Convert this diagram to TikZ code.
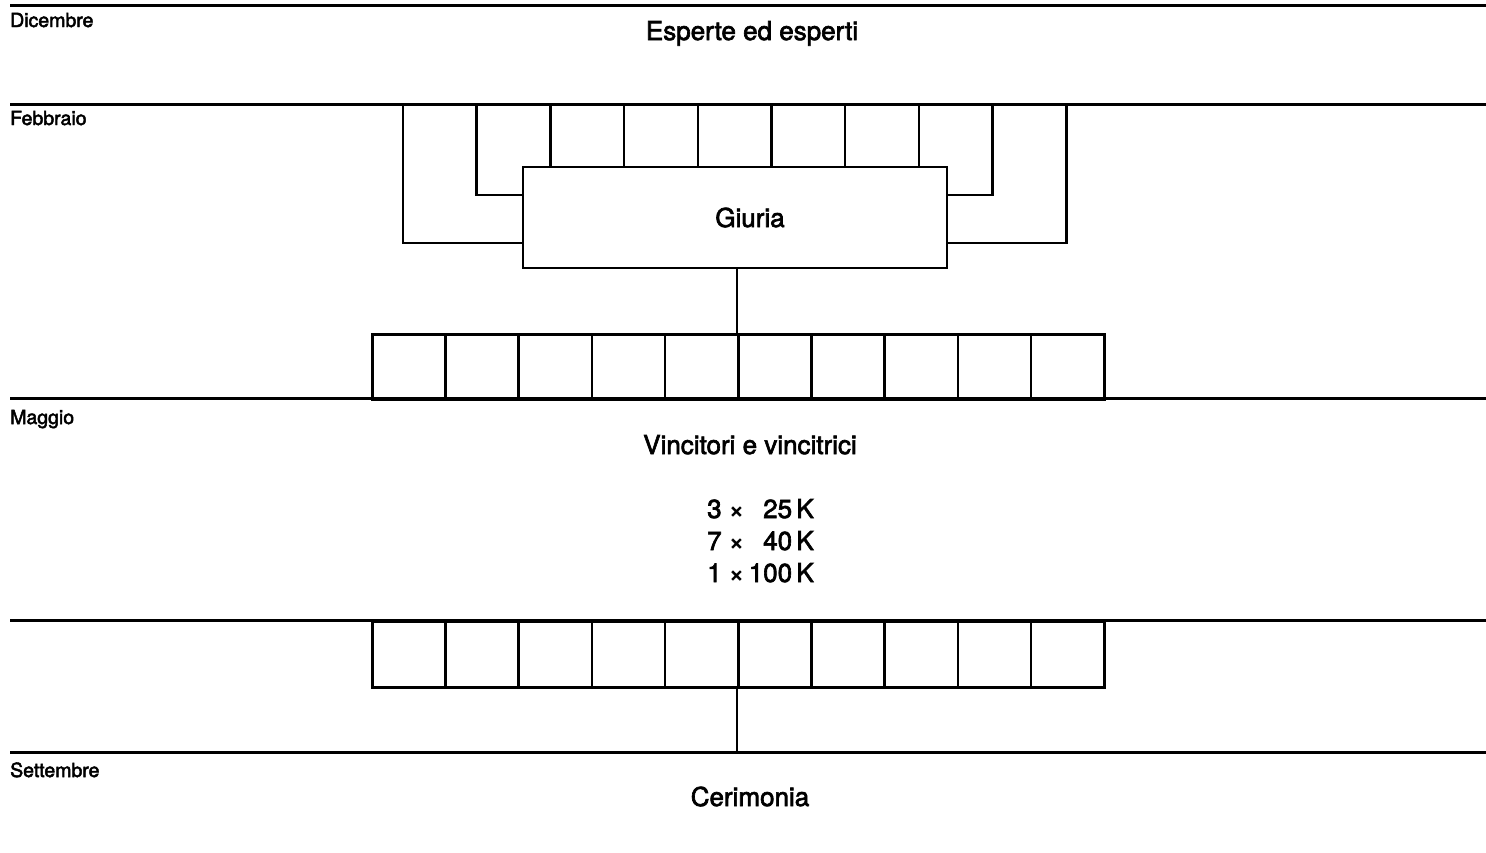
\documentclass[tikz,border=0pt]{standalone}
\usepackage{fontspec}
\setmainfont{TeX Gyre Heros}
\newfontfamily\medfont[FakeBold=2.5]{TeX Gyre Heros}
\tikzset{
  month/.style={anchor=base west, inner sep=0pt, font=\medfont\fontsize{19.5}{22}\selectfont},
  title/.style={anchor=base, inner sep=0pt, font=\medfont\fontsize{26}{30}\selectfont},
  rule/.style={line width=3pt},
  box/.style={draw, line width=2.5pt, inner sep=0pt},
  cell/.style={box, minimum width=73.2pt, minimum height=65pt, anchor=north west},
}
\begin{document}
\begin{tikzpicture}[x=1pt,y=-1pt]
\useasboundingbox (0,0) rectangle (1486,852);
% timeline rules
\foreach \y/\m in {5/dec,104/feb,398/mag,620/lug,752/set} {
  \coordinate (\m-l) at (10,\y);
  \coordinate (\m-r) at (1486,\y);
  \draw[rule] (\m-l) -- (\m-r);
}
% months
\node[month] (dicembre) at (10,27) {Dicembre};
\node[month] (febbraio) at (10,125) {Febbraio};
\node[month] (maggio) at (10,424) {Maggio};
\node[month] (settembre) at (10,777) {Settembre};
% titles
\node[title] (esperti) at (752,40) {Esperte ed esperti};
\node[title] (vincitori) at (750,454) {Vincitori e vincitrici};
\node[title] (cerimonia) at (750,806) {Cerimonia};
% jury
\node[box, minimum width=424pt, minimum height=101pt] (giuria) at (735,217.5) {};
\node[title] (giuriatxt) at (750,227) {Giuria};
\foreach \i in {0,...,9}
  \coordinate (e\i) at ({403+73.7*\i},104);
\foreach \i in {2,...,7}
  \draw[box] (e\i) -- (e\i |- giuria.north);
\draw[box] (e0) |- ([yshift=-25.5pt]giuria.west);
\draw[box] (e1) |- ([yshift=22.5pt]giuria.west);
\draw[box] (e8) |- ([yshift=22.5pt]giuria.east);
\draw[box] (e9) |- ([yshift=-25.5pt]giuria.east);
% candidates
\foreach \i in {0,...,9}
  \node[cell] (jc\i) at ({371+73.2*\i},333) {};
\draw[box] (giuria.south -| jc5.north west) -- (jc5.north west);
% prizes
\foreach \y/\a/\b in {518/3/25,550/7/40,582/1/100} {
  \node[title, anchor=base west] (pa\a) at (707,\y) {\a\ ×};
  \node[title, anchor=base east] (pb\a) at (814,\y) {\b\,K};
}
% winners
\foreach \i in {0,...,9}
  \node[cell, minimum height=66pt] (vc\i) at ({371+73.2*\i},620) {};
\draw[box] (vc5.south west) -- (vc5.south west |- set-l);
\end{tikzpicture}
\end{document}
